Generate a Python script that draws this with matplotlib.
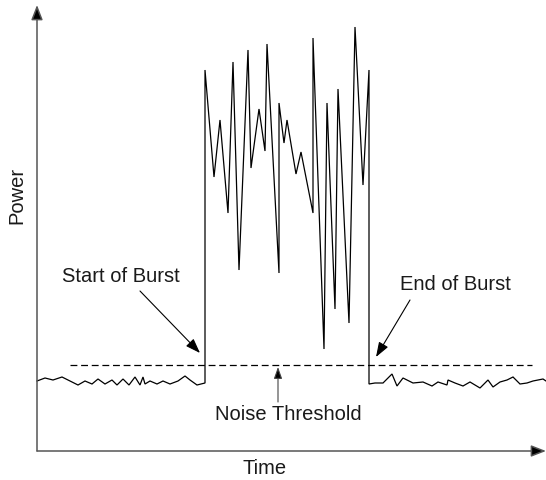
import matplotlib
matplotlib.use("Agg")
import matplotlib.pyplot as plt

plt.rcParams['font.family'] = ['Liberation Sans', 'DejaVu Sans']

# Signal readout: time vs power (arbitrary units)
noise_pre_time = [0, 8, 16, 25, 33, 41, 48, 55, 61, 68, 75, 80, 86, 92, 98, 103, 106, 108,
                  113, 120, 126, 133, 141, 148, 153, 160, 168]
noise_pre_power = [70, 73, 71, 74, 70, 66, 70, 67, 72, 67, 71, 66, 72, 66, 74, 66, 74, 67,
                   70, 67, 70, 67, 70, 75, 71, 66, 68]

burst_time = [168, 177, 183, 191, 196, 202, 211, 214, 222, 228, 230, 242, 242, 247, 250,
              259, 264, 276, 276, 287, 290, 298, 301, 312, 318, 326, 332]
burst_power = [381, 274, 331, 238, 389, 181, 401, 283, 342, 300, 407, 178, 348, 308, 331,
               277, 299, 238, 413, 102, 348, 142, 362, 128, 424, 266, 381]

noise_post_time = [332, 338, 346, 355, 360, 366, 376, 386, 395, 401, 410, 411, 418, 426,
                   433, 443, 451, 456, 463, 470, 476, 483, 490, 496, 506, 509]
noise_post_power = [67, 68, 68, 77, 65, 73, 68, 69, 65, 69, 66, 71, 68, 65, 69, 63, 71, 64,
                    69, 71, 74, 67, 68, 70, 72, 70]

threshold = 86
threshold_span = [33, 495]

time = noise_pre_time + burst_time + noise_post_time
power = noise_pre_power + burst_power + noise_post_power

W, H = 546, 480
fig = plt.figure(figsize=(W / 100, H / 100), dpi=100)
left, right, bottom, top = 37, 546, 451, 5
ax = fig.add_axes([left / W, (H - bottom) / H, (right - left) / W, (bottom - top) / H])
ax.set_xlim(0, right - left)
ax.set_ylim(0, bottom - top)
ax.axis('off')

ax.plot(time, power, color='black', lw=0.9, clip_on=False, solid_joinstyle='miter')
ax.plot(threshold_span, [threshold, threshold], color='black', lw=0.9, dashes=(5.5, 3))

# Axes with arrows
axcol = '#555555'
ax.annotate('', xy=(0, 1.0), xytext=(0, 0), xycoords='axes fraction',
            arrowprops=dict(arrowstyle='-|>,head_length=0.9,head_width=0.35',
                            color=axcol, lw=1.1, shrinkA=0, shrinkB=0, fc='black'))
ax.annotate('', xy=(1.0, 0), xytext=(0, 0), xycoords='axes fraction',
            arrowprops=dict(arrowstyle='-|>,head_length=0.9,head_width=0.35',
                            color=axcol, lw=1.1, shrinkA=0, shrinkB=0, fc='black'))

fs = 14.5
tc = '#1a1a1a'
fig.text(265 / W, 1 - 468 / H, 'Time', ha='center', va='center', fontsize=fs, color=tc)
fig.text(17 / W, 1 - 195 / H, 'Power', ha='center', va='center', fontsize=fs,
         rotation=90, color=tc)

arrow = dict(arrowstyle='-|>,head_length=0.9,head_width=0.32', color='black', lw=0.8,
             shrinkA=0, shrinkB=0)
ax.text(121 - 37, 451 - 276, 'Start of Burst', ha='center', va='center', fontsize=fs, color=tc)
ax.annotate('', xy=(163, 98), xytext=(103, 160), arrowprops=arrow)
ax.text(418, 166, 'End of Burst', ha='center', va='center', fontsize=fs, color=tc)
ax.annotate('', xy=(339, 94), xytext=(373, 151), arrowprops=arrow)
ax.text(251, 36, 'Noise Threshold', ha='center', va='center', fontsize=fs, color=tc)
ax.annotate('', xy=(241, threshold - 2), xytext=(241, 49),
            arrowprops=dict(arrowstyle='-|>,head_length=0.7,head_width=0.25', color='#444444',
                            lw=0.8, shrinkA=0, shrinkB=0, fc='black'))

fig.savefig('out.png', dpi=100)
